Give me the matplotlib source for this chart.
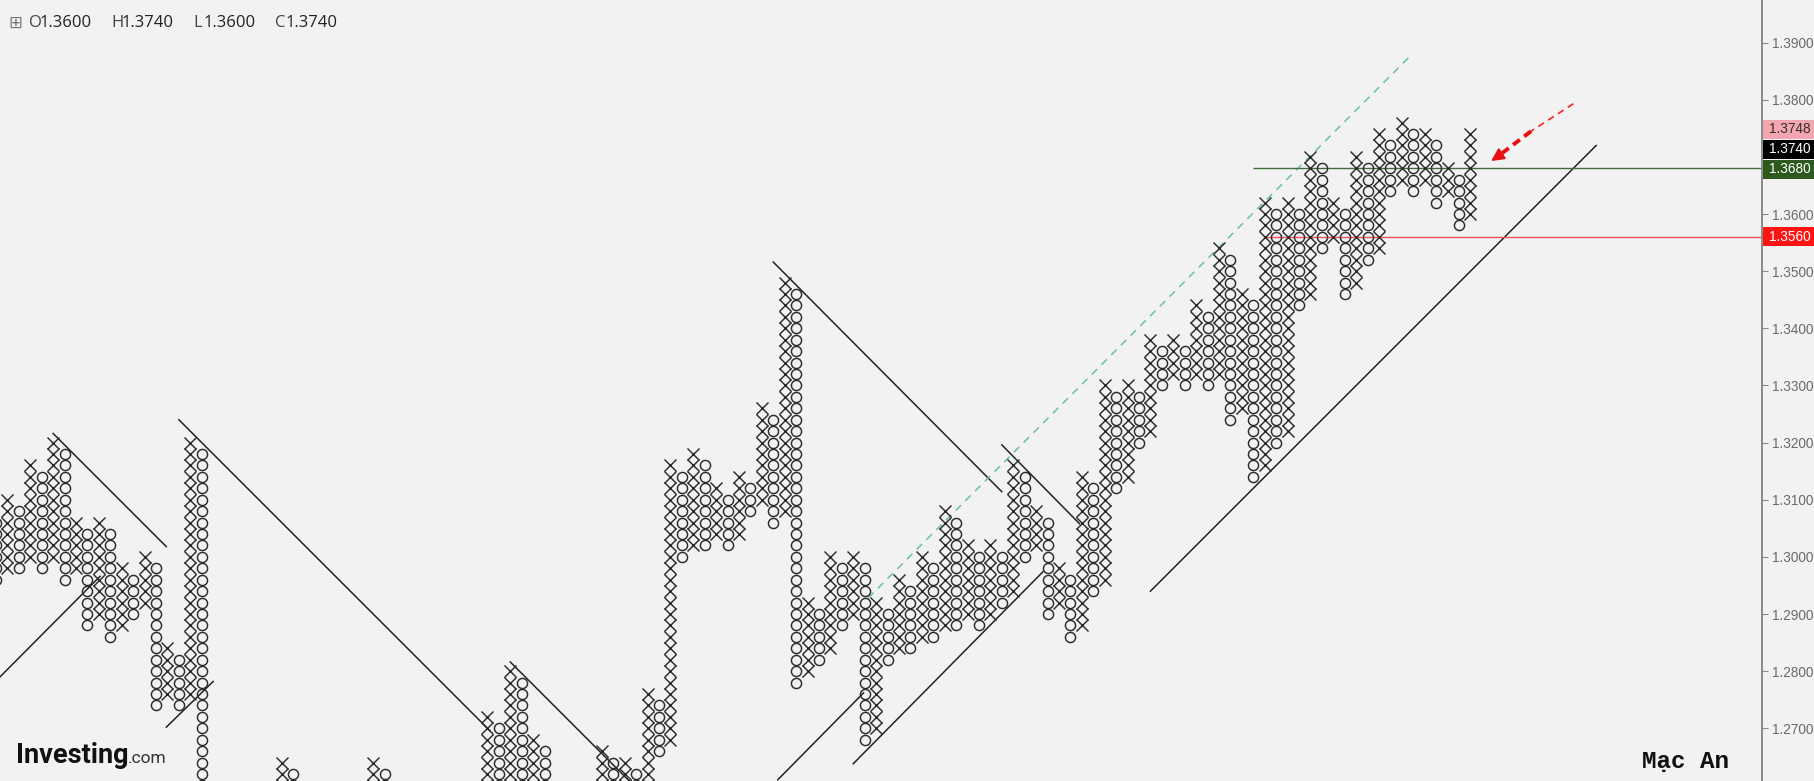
import numpy as np
import matplotlib
matplotlib.use('Agg')
import matplotlib.pyplot as plt
from matplotlib.patches import Rectangle

W, H = 1815, 781
BOX = 0.002
BASE = 1.27

# point & figure columns, counted left to right; boxes are counted above 1.2700
# None = column hidden under the bottom of the window
col_type = "OX" * 65
col_low = [13, 14, 14, 15, 14, 15, 13, 14, 9, 10, 8, 9, 10, 11, 2, 3, 2, 3, -7,
           None, None, None, None, None, None,
           -5, -7,
           None, None, None, None, None, None,
           -5, -7,
           None, None, None, None, None, None, None, None,
           -6, -6, -5, -6, -5, -6,
           None, None, None, None,
           -6, -6, -5, -6, -5, -2, -1, 15, 16, 16, 17, 16, 17, 19, 20, 18, 19, 4,
           5, 6, 7, 9, 10, -1, 0, 6, 7, 7, 8, 8, 9, 9, 10, 9, 10, 11, 12, 15,
           16, 10, 11, 8, 9, 12, 13, 21, 22, 25, 26, 30, 31, 30, 31, 30, 31, 27,
           28, 22, 23, 25, 26, 37, 38, 42, 43, 38, 39, 41, 42, 47, 48, 47, 48, 46,
           47, 44, 45]
col_high = [18, 20, 19, 23, 22, 25, 24, 18, 17, 18, 17, 14, 13, 15, 14, 7, 6, 25, 24,
            None, None, None, None, None, None,
            -3, -4,
            None, None, None, None, None, None,
            -3, -4,
            None, None, None, None, None, None, None, None,
            1, 0, 5, 4, -1, -2,
            None, None, None, None,
            -2, -3, -3, -4, 3, 2, 23, 22, 24, 23, 21, 20, 22, 21, 28, 27, 39, 38,
            11, 10, 15, 14, 15, 14, 11, 10, 13, 12, 15, 14, 19, 18, 16, 15, 16, 15,
            23, 22, 19, 18, 14, 13, 22, 21, 30, 29, 30, 29, 34, 33, 34, 33, 37, 36,
            42, 41, 38, 37, 46, 45, 46, 45, 50, 49, 46, 45, 50, 49, 52, 51, 53, 52,
            52, 51, 49, 48, 52]

# trend lines (column, box) -> (column, box)
trend_lines = [((5.0, 25.8), (14.9, 15.9)), ((0.35, 4.5), (9.1, 13.3)),
               ((16.0, 27.0), (43.2, -0.2)), ((45.0, 5.8), (55.4, -4.6)),
               ((14.9, 0.1), (19.0, 4.1)), ((68.0, 40.8), (88.0, 20.7)),
               ((88.0, 24.8), (94.8, 17.9)), ((68.4, -4.5), (75.9, 3.1)),
               ((75.0, -3.1), (91.6, 13.7)), ((101.0, 12.0), (140.0, 51.0))]
dashed_line = ((76.3, 11.4), (123.7, 58.8))

level_green = 1.3680
level_red = 1.3560
green_from, red_from = 110.0, 110.9

price_tags = [1.3748, 1.3740, 1.3680, 1.3560]
tag_face = ['#f2a7b0', '#000000', '#2d5a1c', '#ff1414']
tag_text = ['#3a2a2a', 'white', 'white', 'white']

ohlc = [('O', 1.3600), ('H', 1.3740), ('L', 1.3600), ('C', 1.3740)]

arrow_tail = (138.0, 1.3793)
arrow_mid = (134.3, 1.3745)
arrow_tip = (130.6, 1.3690)

INK = '#2b2b2b'
BG = '#f2f2f2'

fig = plt.figure(figsize=(W / 100, H / 100), dpi=100, facecolor=BG)
ax = fig.add_axes([0, 0, 1762 / W, 1])
ax.set_facecolor(BG)

px_col = 11.43
ax.set_xlim(0.35, 0.35 + 1762 / px_col)
ax.set_ylim(1.26078, 1.39746)

def bp(b):
    return BASE + BOX * b

xs_x, ys_x, xs_o, ys_o = [], [], [], []
for k, (t, lo, hi) in enumerate(zip(col_type, col_low, col_high)):
    if lo is None:
        continue
    boxes = bp(np.arange(lo, hi + 1))
    if t == 'X':
        xs_x += [k] * len(boxes)
        ys_x += list(boxes)
    else:
        xs_o += [k] * len(boxes)
        ys_o += list(boxes)

ax.plot(xs_x, ys_x, ls='none', marker='x', ms=8.4, mew=1.05, color=INK, zorder=3)
ax.plot(xs_o, ys_o, ls='none', marker='o', ms=7.3, mew=1.05, mfc='none', mec=INK, zorder=3)

for (k0, b0), (k1, b1) in trend_lines:
    ax.plot([k0, k1], [bp(b0), bp(b1)], color='#222222', lw=1.1, zorder=2)

(k0, b0), (k1, b1) = dashed_line
ax.plot([k0, k1], [bp(b0), bp(b1)], color='#6cbfa8', lw=1.1, ls=(0, (5, 4)), zorder=2)

right = ax.get_xlim()[1]
ax.hlines(level_green, green_from, right, color='#3f6f38', lw=1.0, zorder=2)
ax.hlines(level_red, red_from, right, color='#f0505a', lw=1.0, zorder=2)

# red dashed arrow, thin far end, thick near the head
ax.plot([arrow_tail[0], arrow_mid[0]], [arrow_tail[1], arrow_mid[1]],
        color='#ff2020', lw=1.2, ls=(0, (4, 3)), zorder=4)
ax.plot([arrow_mid[0], arrow_tip[0] + 1.0], [arrow_mid[1], arrow_tip[1] + 0.0014],
        color='#e81010', lw=2.8, ls=(0, (2.2, 1.4)), zorder=4)
ax.annotate('', xy=arrow_tip, xytext=(arrow_tip[0] + 1.4, arrow_tip[1] + 0.0019),
            arrowprops=dict(arrowstyle='-|>', color='#e81010', lw=1.5, mutation_scale=19),
            zorder=4)

# axis on the right
for s in ['top', 'left', 'bottom']:
    ax.spines[s].set_visible(False)
ax.spines['right'].set_color('#8a8a8a')
ax.spines['right'].set_linewidth(1.4)
ax.set_xticks([])
ax.yaxis.tick_right()
yt = np.round(np.arange(1.27, 1.3901, 0.01), 2)
ax.set_yticks(yt)
tag_h = 20
tag_pix = []
prev = None
for p in price_tags:
    ypix = ax.transData.transform((0, p))[1]
    if prev is not None and ypix > prev - tag_h:
        ypix = prev - tag_h
    prev = ypix
    tag_pix.append(ypix)
# tick labels that sit under a price tag are hidden by it
labels = []
for v in yt:
    yv = ax.transData.transform((0, v))[1]
    covered = any(abs(yv - yp) < tag_h * 0.75 for yp in tag_pix)
    labels.append('' if covered else f'{v:.4f}')
ax.set_yticklabels(labels, fontfamily='Liberation Sans', fontsize=9.8, color='#6a6a6a')
ax.tick_params(axis='y', direction='out', length=4, width=0.8, color='#8a8a8a', pad=3)

# price tags, stacked so they do not overlap
for p, yp, fc, tc in zip(price_tags, tag_pix, tag_face, tag_text):
    fig.patches.append(Rectangle(((1763) / W, (yp - 9.5) / H), (W - 1763) / W, 19 / H,
                                 transform=fig.transFigure, fc=fc, ec='none', zorder=4))
    fig.text(1769 / W, yp / H, f'{p:.4f}', ha='left', va='center',
             fontfamily='Liberation Sans', fontsize=9.8, color=tc, zorder=5)

# header
hy = 1 - 23 / H
fig.text(8 / W, hy, '\u229e', fontsize=12, color='#777777', va='center', ha='left')
xpos = 29
for lab, val in ohlc:
    fig.text(xpos / W, hy, lab, fontfamily='Open Sans', fontsize=12,
             color='#444444', va='center', ha='left')
    fig.text((xpos + 11) / W, hy, f'{val:.4f}', fontfamily='Open Sans',
             fontsize=12, color='#222222', va='center', ha='left')
    xpos += 82

# watermarks
fig.text(16 / W, 1 - 763 / H, 'Investing', fontfamily='Roboto', fontweight='bold',
         fontsize=19.5, color='#111111', va='baseline', ha='left')
fig.text(128 / W, 1 - 763 / H, '.com', fontfamily='Roboto', fontsize=12.5,
         color='#333333', va='baseline', ha='left')
fig.text(1642 / W, 1 - 768 / H, 'Mạc An', fontfamily='Liberation Mono', fontweight='bold',
         fontsize=17.5, color='#111111', va='baseline', ha='left')

fig.savefig('out.png', dpi=100, facecolor=BG)
